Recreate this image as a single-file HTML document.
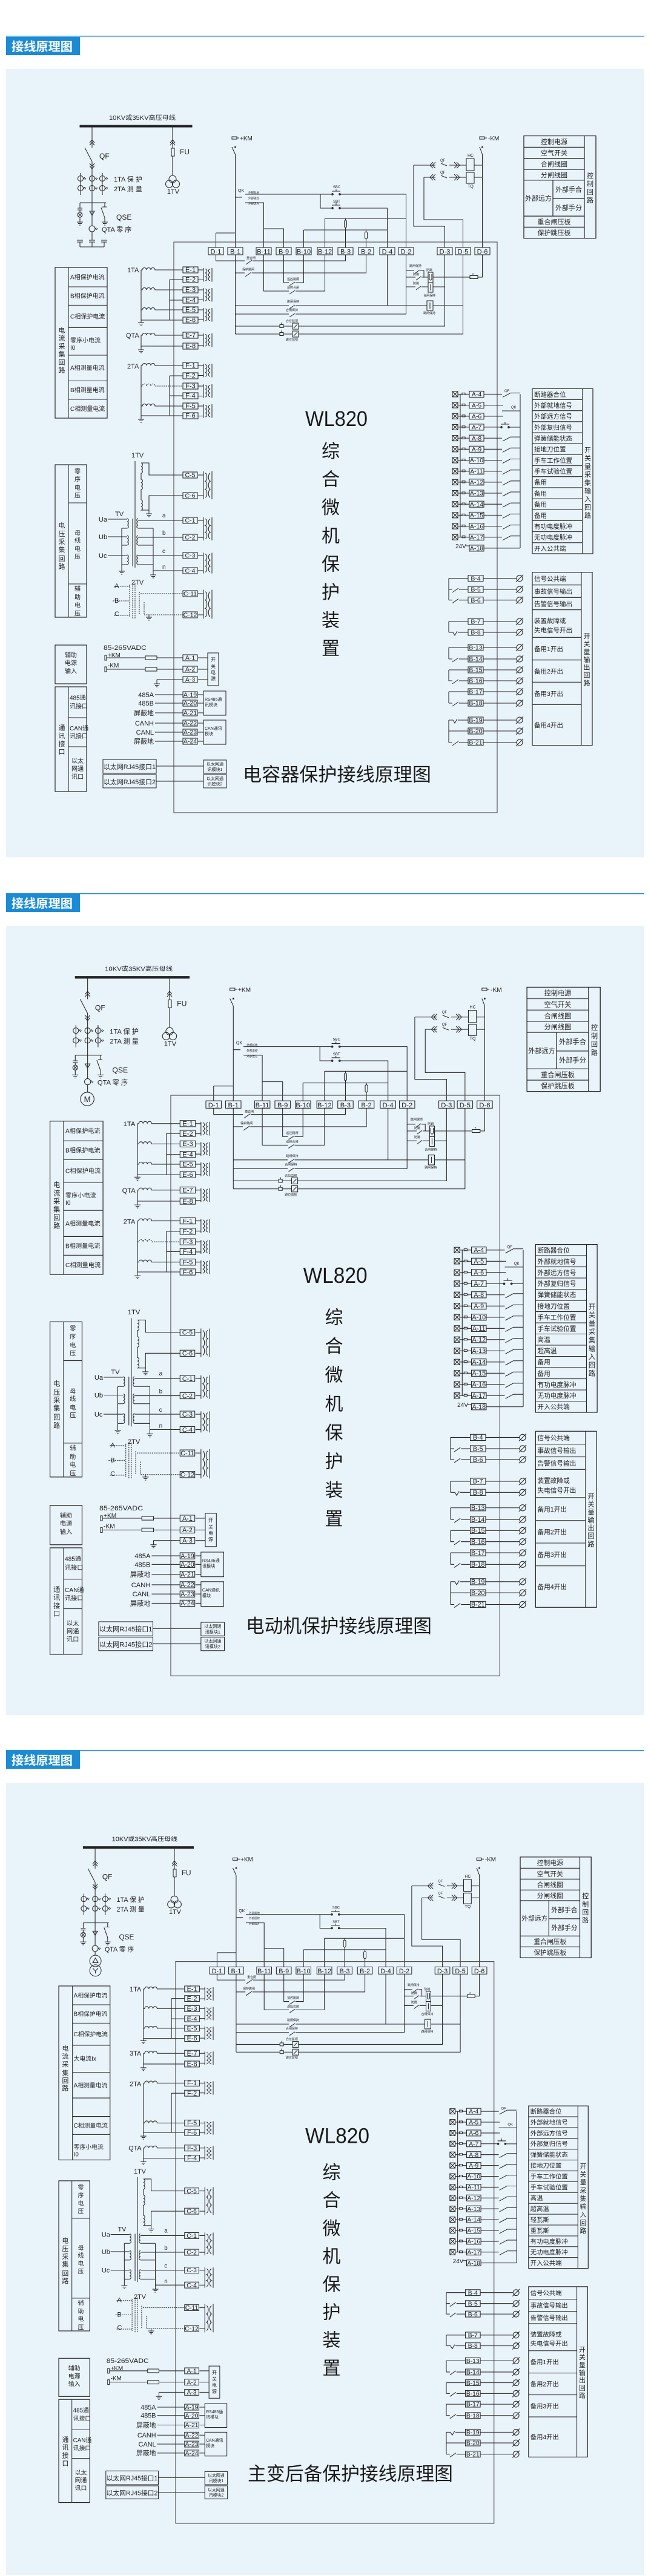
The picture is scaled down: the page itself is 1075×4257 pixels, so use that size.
<!DOCTYPE html>
<html><head><meta charset="utf-8"><style>html,body{margin:0;padding:0;background:#fff}svg{display:block}</style></head><body>
<svg xmlns="http://www.w3.org/2000/svg" width="1075" height="4257" viewBox="0 0 1075 4257">
<defs>
<path id="g" d="M0,0V3M-5,3H5M-3,5.5H3M-1.2,8H1.2"/>
<path id="ct" d="M0,0H2a3.5,3.5 0 0 1 7,0a3.5,3.5 0 0 1 7,0a3.5,3.5 0 0 1 7,0H69"/>
<path id="k" vector-effect="non-scaling-stroke" d="M0,0H9M0,16.5H9M9,-3V19.5M23,-3V19.5M12,-1.5a3.3,3.3 0 0 1 0,6.5a3.3,3.3 0 0 1 0,6.5a3.3,3.3 0 0 1 0,6.5M20,-1.5a3.3,3.3 0 0 0 0,6.5a3.3,3.3 0 0 0 0,6.5a3.3,3.3 0 0 0 0,6.5"/>
<g id="in"><rect x="0" y="-4.5" width="9" height="9"/><path d="M0,-4.5L9,4.5M9,-4.5L0,4.5M9,0H16M16,-2h5v3h-5zM21,0H28"/><rect x="28" y="-5" width="24" height="10"/></g>
<path id="sw" d="M0,0H30M31,5L44,-2M44,-2H60"/>
<g id="out"><rect x="0" y="-5" width="25" height="10"/><path d="M25,0H80M79,6L91,-6"/><circle cx="85" cy="0" r="5"/></g>

<g id="S">
<g fill="none" stroke="#262626" stroke-width="1.05">
<rect x="132" y="207" width="185" height="3" fill="#222"/>
<path d="M152,210V244M148,236l4,-5l4,5M148,240l4,-5l4,5M140,244L152,267M148,270l4,5l4,-5M148,274l4,5l4,-5M152,267V373M133,286V322M169,286V322M132,335H175M132,335V344M128,344H136M128,347H136M132,347V351M132,359V364M173,335V342M169,342H176M167,343L173,360M173,360V364M148,349H156L152,356Z"/>
<circle cx="133" cy="295" r="4.5"/><circle cx="152" cy="295" r="4.5"/><circle cx="169" cy="295" r="4.5"/>
<circle cx="133" cy="311" r="4.5"/><circle cx="152" cy="311" r="4.5"/><circle cx="169" cy="311" r="4.5"/>
<path d="M138,296l2,-3M140,297l2,-3M157,296l2,-3M159,297l2,-3M174,296l2,-3M176,297l2,-3M138,312l2,-3M140,313l2,-3M157,312l2,-3M159,313l2,-3M174,312l2,-3M176,313l2,-3M157,379l2,-3M159,380l2,-3"/>
<circle cx="132" cy="355" r="4"/><path d="M129.2,352.2L134.8,357.8M134.8,352.2L129.2,357.8"/>
<circle cx="152" cy="378" r="5"/>
<use href="#g" x="132" y="364"/><use href="#g" x="173" y="364"/>
<path d="M285,210V245M281,236l4,-5l4,5M281,240l4,-5l4,5M285,258V290"/>
<rect x="283" y="245" width="5" height="13"/>
<circle cx="285" cy="296" r="6"/><circle cx="279.5" cy="304" r="6"/><circle cx="290.5" cy="304" r="6"/>
<rect x="383" y="226" width="8" height="4"/>
<path d="M391,228H395M383,243L388.5,255M388.5,255V409M388.5,421V552M356.5,385V409M356.5,385H388.5M356.5,421V431H404M406,437L416,430M417,431H570.5V421M388.5,451H404M405,457L415,450M416,451H604.5V421M468.5,421V467H477M478,472L487,466M488,467H501.5V421M435.5,421V481H477M478,486L487,480M488,481H536.5V421M388.5,505H477M478,510L487,504M488,505H705M715,505H764.5M639.5,421V505M388.5,519H477M478,524L487,518M488,519H670.5V421M388.5,539H462M468,539H483M493,539H734.5V421M388.5,552H462M468,552H483M493,552H764.5V421"/>
<rect x="705" y="497" width="10" height="16"/><path d="M710,500V510"/>
<rect x="462" y="536.5" width="6" height="5"/><rect x="462" y="549.5" width="6" height="5"/><path d="M465,536.5V533M465,549.5V546M485,542L491,536M485,555L491,549"/>
<rect x="483" y="534" width="10" height="10"/><rect x="483" y="547" width="10" height="10"/>
<path d="M796.5,421V458H789M776,458H715M670.5,447H684M685,452L693,446M694,447H700V458M670.5,458H686M687,463L695,457M696,458H707M670.5,474H686M687,479L695,473M696,474H707M715,474H734.5M709,453V461a2,2 0 0 0 4,0V453M711,470V480"/>
<rect x="776" y="455.5" width="13" height="5"/><rect x="707" y="450" width="8" height="17"/><rect x="707" y="467" width="8" height="16"/>
<rect x="792" y="226" width="8" height="4"/>
<path d="M800,228H804M792,243L796.5,255M796.5,255V409M783,273H796.5M783,293H796.5M683,273H719M715,268l-5,5l5,5M719,268l-5,5l5,5M728,270L738,274M742,273H758M750,268l5,5l-5,5M754,268l5,5l-5,5M758,273H770M700,293H719M715,288l-5,5l5,5M719,288l-5,5l5,5M728,290L738,294M742,293H758M750,288l5,5l-5,5M754,288l5,5l-5,5M758,293H770M683,273V374H734.5V409M700,293V363H764.5V409"/>
<rect x="770" y="262" width="13" height="20"/><rect x="770" y="285" width="13" height="18"/>
<path d="M388.5,326H400M405,321H547M562,321H670.5V409M405,335H435.5V409M529,321V344H547M562,344H639.5V409M548,316H562M555,316V313M548,339H562M555,339V336M435.5,378H468.5V409M501.5,380V409M501.5,380H639.5M536.5,361V409M536.5,361H670.5M570.5,361V409M604.5,380V409"/>
<circle cx="549" cy="321" r="1.3" fill="#333"/><circle cx="561" cy="321" r="1.3" fill="#333"/><circle cx="549" cy="344" r="1.3" fill="#333"/><circle cx="561" cy="344" r="1.3" fill="#333"/><circle cx="388.5" cy="243" r="0.9" fill="#333"/><circle cx="796.5" cy="243" r="0.9" fill="#333"/>
<rect x="568.5" y="364" width="4" height="12" rx="2" fill="#e9f3fa"/><rect x="602.5" y="383" width="4" height="12" rx="2" fill="#e9f3fa"/>
<rect x="287" y="400" width="534" height="943" stroke="#555" stroke-width="1.2"/>
<rect x="344" y="409" width="25" height="12"/><rect x="376" y="409" width="25" height="12"/><rect x="423" y="409" width="25" height="12"/><rect x="456" y="409" width="25" height="12"/><rect x="489" y="409" width="25" height="12"/><rect x="524" y="409" width="25" height="12"/><rect x="558" y="409" width="25" height="12"/><rect x="592" y="409" width="25" height="12"/><rect x="627" y="409" width="25" height="12"/><rect x="658" y="409" width="25" height="12"/><rect x="722" y="409" width="25" height="12"/><rect x="752" y="409" width="25" height="12"/><rect x="784" y="409" width="25" height="12"/>
<rect x="865" y="224.5" width="119" height="169.2" stroke-width="1.3"/>
<path stroke-width="1.2" d="M965,224.5V393.7M865,243.3H965M865,261.6H965M865,279.9H965M865,297.8H965M913,297.8V357.1M913,328.1H965M865,357.1H965M865,375.4H965"/>
<use href="#in" x="747" y="651.4"/><use href="#in" x="747" y="669.6"/><use href="#in" x="747" y="687.8"/><use href="#in" x="747" y="705.9"/><use href="#in" x="747" y="724.1"/><use href="#in" x="747" y="742.3"/><use href="#in" x="747" y="760.5"/><use href="#in" x="747" y="778.7"/><use href="#in" x="747" y="796.8"/><use href="#in" x="747" y="815"/><use href="#in" x="747" y="833.2"/><use href="#in" x="747" y="851.4"/><use href="#in" x="747" y="869.6"/><use href="#in" x="747" y="887.7"/>
<rect x="775" y="900.9" width="24" height="10"/>
<path d="M760,651.4V887.7M769,902H775M859,651.4V905.9M799,905.9H859M799,669.6H831M799,687.8H831M829,679H859M799,705.9H826M827,701H841M834,701V697M841,706H859"/>
<circle cx="828" cy="706" r="1.3" fill="#333"/><circle cx="840" cy="706" r="1.3" fill="#333"/>
<use href="#sw" x="799" y="651.4"/><use href="#sw" x="799" y="724.1"/><use href="#sw" x="799" y="742.3"/><use href="#sw" x="799" y="760.5"/><use href="#sw" x="799" y="778.7"/><use href="#sw" x="799" y="796.8"/><use href="#sw" x="799" y="815"/><use href="#sw" x="799" y="833.2"/><use href="#sw" x="799" y="851.4"/><use href="#sw" x="799" y="869.6"/><use href="#sw" x="799" y="887.7"/>
<rect x="879" y="642.3" width="100" height="272.7" stroke-width="1.2"/>
<path d="M961.7,642.3V915M879,660.5H961.7M879,678.7H961.7M879,696.8H961.7M879,715H961.7M879,733.2H961.7M879,751.4H961.7M879,769.6H961.7M879,787.7H961.7M879,805.9H961.7M879,824.1H961.7M879,842.3H961.7M879,860.5H961.7M879,878.6H961.7M879,896.8H961.7"/>
<use href="#out" x="773" y="955.7"/><use href="#out" x="773" y="974"/><use href="#out" x="773" y="991.7"/><use href="#out" x="773" y="1027"/><use href="#out" x="773" y="1045"/><use href="#out" x="773" y="1070"/><use href="#out" x="773" y="1089"/><use href="#out" x="773" y="1107"/><use href="#out" x="773" y="1125"/><use href="#out" x="773" y="1143"/><use href="#out" x="773" y="1162"/><use href="#out" x="773" y="1190"/><use href="#out" x="773" y="1208"/><use href="#out" x="773" y="1227"/>
<path d="M741,955.7V991.7M741,955.7H773M741,974H747M747,979L757,972M758,974H773M741,991.7H747M747,996.7L757,989.7M758,991.7H773M741,1027V1045M741,1027H773M741,1045H748L751,1050L755,1043M756,1045H773M741,1070V1089M741,1070H773M741,1089H747M747,1094L757,1087M758,1089H773M741,1107V1125M741,1107H773M741,1125H747M747,1130L757,1123M758,1125H773M741,1143V1162M741,1143H773M741,1162H747M747,1167L757,1160M758,1162H773M741,1190V1227M741,1190H748L751,1195L755,1188M756,1190H773M741,1208H773M741,1227H747M747,1232L757,1225M758,1227H773"/>
<rect x="879" y="945.7" width="99" height="286" stroke-width="1.2"/>
<path d="M960,945.7V1231.7M879,966.7H960M879,987.3H960M879,1007.7H960M879,1053.3H960M879,1090.7H960M879,1127.3H960M879,1164.3H960"/>
<path d="M219,857V936M223,762V938M233,765a2.9,2.9 0 0 1 0,5.7a2.9,2.9 0 0 1 0,5.7a2.9,2.9 0 0 1 0,5.7V792a2.9,2.9 0 0 1 0,5.7a2.9,2.9 0 0 1 0,5.7a2.9,2.9 0 0 1 0,5.7V826a2.9,2.9 0 0 1 0,5.7a2.9,2.9 0 0 1 0,5.7a2.9,2.9 0 0 1 0,5.7V843M233,765H246V785H302M233,843H246V819H302M246,843V846"/>
<path d="M210,857a2.7,2.7 0 0 1 0,5.3a2.7,2.7 0 0 1 0,5.3a2.7,2.7 0 0 1 0,5.3M210,885a2.7,2.7 0 0 1 0,5.3a2.7,2.7 0 0 1 0,5.3a2.7,2.7 0 0 1 0,5.3M210,917a2.7,2.7 0 0 1 0,5.3a2.7,2.7 0 0 1 0,5.3a2.7,2.7 0 0 1 0,5.3M178,858H210M178,887H210M178,918H210M210,873H201M210,901H201M210,933H201M201,873V941"/>
<path d="M228,857a2.7,2.7 0 0 0 0,5.3a2.7,2.7 0 0 0 0,5.3a2.7,2.7 0 0 0 0,5.3M228,885a2.7,2.7 0 0 0 0,5.3a2.7,2.7 0 0 0 0,5.3a2.7,2.7 0 0 0 0,5.3M228,917a2.7,2.7 0 0 0 0,5.3a2.7,2.7 0 0 0 0,5.3a2.7,2.7 0 0 0 0,5.3M228,860H302M228,888H302M228,918H302M253,943H302M228,873H253M228,901H253M228,933H253M253,873V947"/>
<use href="#g" x="246" y="846"/><use href="#g" x="201" y="941"/><use href="#g" x="253" y="947"/>
<path stroke-dasharray="2,1.5" d="M188,969H214M186,993H214M188,1017H214M214,966V1020M219,964V1022M223,964V1022M230,978V1016M232,981H302M238,995V1016H302"/>
<use href="#g" x="246" y="1017"/>
<rect x="302" y="780" width="24" height="10"/><rect x="302" y="814" width="24" height="10"/><rect x="302" y="855" width="24" height="10"/><rect x="302" y="883" width="24" height="10"/><rect x="302" y="913" width="24" height="10"/><rect x="302" y="938" width="24" height="10"/><rect x="302" y="976" width="24" height="10"/><rect x="302" y="1011" width="24" height="10"/>
<use href="#k" transform="translate(327,785) scale(1,2.06)"/><use href="#k" transform="translate(327,860) scale(1,1.7)"/><use href="#k" transform="translate(327,918) scale(1,1.52)"/><use href="#k" transform="translate(327,981) scale(1,2.12)"/>
<rect x="173" y="1083" width="3" height="8"/><rect x="173" y="1102" width="3" height="8"/>
<path d="M176,1087H240M259,1087H302M176,1106H240M259,1106H302M259,1123H302M259,1123V1127M327,1087H343M327,1106H343M327,1123H343"/>
<rect x="240" y="1084" width="19" height="6"/><rect x="240" y="1103" width="19" height="6"/>
<use href="#g" x="259" y="1127"/>
<rect x="302" y="1082" width="24" height="10"/><rect x="302" y="1101" width="24" height="10"/><rect x="302" y="1118" width="24" height="10"/>
<rect x="343" y="1079" width="18" height="54"/>
<path d="M256,1148H302M256,1162H302M256,1178H302M256,1195H302M256,1210H302M256,1225H302M327,1148H336M327,1162H336M327,1178H336M327,1195H336M327,1210H336M327,1225H336M258,1266H336M258,1291H336"/>
<rect x="302" y="1143" width="24" height="10"/><rect x="302" y="1157" width="24" height="10"/><rect x="302" y="1173" width="24" height="10"/><rect x="302" y="1190" width="24" height="10"/><rect x="302" y="1205" width="24" height="10"/><rect x="302" y="1220" width="24" height="10"/>
<rect x="336" y="1142" width="37" height="40"/><rect x="336" y="1190" width="37" height="40"/>
<rect x="170" y="1255" width="88" height="23"/><rect x="170" y="1280" width="88" height="22"/>
<rect x="336" y="1256" width="38" height="22"/><rect x="336" y="1280" width="38" height="22"/>
<rect x="91" y="768" width="52" height="252" stroke-width="1.2"/><path d="M113,768V1020M113,831H143M113,965H143"/>
<rect x="91" y="1066" width="52" height="64" stroke-width="1.2"/>
<rect x="91" y="1135" width="52" height="173" stroke-width="1.2"/><path d="M113,1135V1308M113,1186H143M113,1234H143"/>
</g>
<g fill="#222" stroke="none" font-family="'Liberation Sans','Noto Sans CJK SC',sans-serif" font-size="10">
<text x="235" y="198" text-anchor="middle" textLength="110" lengthAdjust="spacingAndGlyphs">10KV或35KV高压母线</text>
<text x="164" y="262" font-size="12">QF</text>
<text x="188" y="300" font-size="11">1TA 保 护</text>
<text x="188" y="316" font-size="11">2TA 测 量</text>
<text x="192" y="363" font-size="12">QSE</text>
<text x="168" y="383" font-size="11">QTA 零 序</text>
<text x="297" y="255" font-size="12">FU</text>
<text x="286" y="320" font-size="11" text-anchor="middle">1TV</text>
<text x="396" y="232">+KM</text>
<text x="806" y="232">-KM</text>
<text x="393" y="317" font-size="7">QK</text>
<text x="410" y="320" font-size="4.5">外部就地</text>
<text x="410" y="329" font-size="4.5">外部遥控</text>
<text x="410" y="338" font-size="4.5">外部远方</text>
<text x="556" y="311" font-size="6" text-anchor="middle">SBC</text>
<text x="556" y="335" font-size="6" text-anchor="middle">SBT</text>
<text x="777" y="259" font-size="7" text-anchor="middle">HC</text>
<text x="777" y="310" font-size="7" text-anchor="middle">TQ</text>
<text x="727" y="267" font-size="6">QF</text>
<text x="727" y="287" font-size="6">QF</text>
<text x="407" y="428" font-size="5">重合闸</text>
<text x="400" y="447" font-size="5">保护跳闸</text>
<text x="474" y="463" font-size="5">遥控跳闸</text>
<text x="474" y="477" font-size="5">遥控合闸</text>
<text x="474" y="500" font-size="5">跳闸保持</text>
<text x="472" y="514" font-size="5">合闸保持</text>
<text x="472" y="532" font-size="5">合位监视</text>
<text x="472" y="563" font-size="5">跳位监视</text>
<text x="676" y="441" font-size="5">跳闸保持</text>
<text x="704" y="448" font-size="5">防跳</text>
<text x="682" y="455" font-size="5">防跳</text>
<text x="682" y="470" font-size="5">防跳</text>
<text x="699" y="490" font-size="5">合闸保持</text>
<text x="699" y="519" font-size="5">跳闸保持</text>
<text x="780" y="454" font-size="4">R</text>
<g font-size="11" text-anchor="middle">
<text x="356.5" y="419.5">D-1</text><text x="388.5" y="419.5">B-1</text><text x="435.5" y="419.5">B-11</text><text x="468.5" y="419.5">B-9</text><text x="501.5" y="419.5">B-10</text><text x="536.5" y="419.5">B-12</text><text x="570.5" y="419.5">B-3</text><text x="604.5" y="419.5">B-2</text><text x="639.5" y="419.5">D-4</text><text x="670.5" y="419.5">D-2</text><text x="734.5" y="419.5">D-3</text><text x="764.5" y="419.5">D-5</text><text x="796.5" y="419.5">D-6</text>
<text x="915" y="238">控制电源</text><text x="915" y="256.5">空气开关</text><text x="915" y="275">合闸线圈</text><text x="915" y="293">分闸线圈</text>
<text x="889" y="331.5">外部远方</text><text x="939" y="317">外部手合</text><text x="939" y="347">外部手分</text>
<text x="915" y="370.5">重合闸压板</text><text x="915" y="388.7">保护跳压板</text>
<text x="974.5" y="294">控</text><text x="974.5" y="307.6">制</text><text x="974.5" y="321">回</text><text x="974.5" y="334.4">路</text>
<text x="970.5" y="747.3">开</text><text x="970.5" y="760.9">关</text><text x="970.5" y="774.4">量</text><text x="970.5" y="788">采</text><text x="970.5" y="801.5">集</text><text x="970.5" y="815">输</text><text x="970.5" y="828.6">入</text><text x="970.5" y="842.1">回</text><text x="970.5" y="855.7">路</text>
<text x="969" y="1055">开</text><text x="969" y="1068">关</text><text x="969" y="1081">量</text><text x="969" y="1094">输</text><text x="969" y="1106.5">出</text><text x="969" y="1119.5">回</text><text x="969" y="1132.5">路</text>
<text x="102" y="872">电</text><text x="102" y="886">压</text><text x="102" y="899">采</text><text x="102" y="912">集</text><text x="102" y="927">回</text><text x="102" y="940">路</text>
<text x="102" y="1206.5">通</text><text x="102" y="1219.3">讯</text><text x="102" y="1233">接</text><text x="102" y="1245.8">口</text>
</g>
<g font-size="10.5" text-anchor="middle">
<text x="787" y="655.1">A-4</text><text x="787" y="673.3">A-5</text><text x="787" y="691.5">A-6</text><text x="787" y="709.6">A-7</text><text x="787" y="727.8">A-8</text><text x="787" y="746">A-9</text><text x="787" y="764.2">A-10</text><text x="787" y="782.4">A-11</text><text x="787" y="800.5">A-12</text><text x="787" y="818.7">A-13</text><text x="787" y="836.9">A-14</text><text x="787" y="855.1">A-15</text><text x="787" y="873.3">A-16</text><text x="787" y="891.4">A-17</text><text x="787" y="909.6">A-18</text>
<text x="785.5" y="959.4">B-4</text><text x="785.5" y="977.7">B-5</text><text x="785.5" y="995.4">B-6</text><text x="785.5" y="1030.7">B-7</text><text x="785.5" y="1048.7">B-8</text><text x="785.5" y="1073.7">B-13</text><text x="785.5" y="1092.7">B-14</text><text x="785.5" y="1110.7">B-15</text><text x="785.5" y="1128.7">B-16</text><text x="785.5" y="1146.7">B-17</text><text x="785.5" y="1165.7">B-18</text><text x="785.5" y="1193.7">B-19</text><text x="785.5" y="1211.7">B-20</text><text x="785.5" y="1230.7">B-21</text>
<text x="314" y="788.7">C-5</text><text x="314" y="822.7">C-6</text><text x="314" y="863.7">C-1</text><text x="314" y="891.7">C-2</text><text x="314" y="921.7">C-3</text><text x="314" y="946.7">C-4</text><text x="314" y="984.7">C-11</text><text x="314" y="1019.7">C-12</text>
<text x="314" y="1090.7">A-1</text><text x="314" y="1109.7">A-2</text><text x="314" y="1126.7">A-3</text>
<text x="314" y="1151.7">A-19</text><text x="314" y="1165.7">A-20</text><text x="314" y="1181.7">A-21</text><text x="314" y="1198.7">A-22</text><text x="314" y="1213.7">A-23</text><text x="314" y="1228.7">A-24</text>
</g>
<text x="752" y="906">24V</text>
<text x="833" y="648" font-size="6">QF</text>
<text x="844" y="675" font-size="6">QK</text>
<g font-size="10.5">
<text x="882" y="655.3">断路器合位</text><text x="882" y="673.5">外部就地信号</text><text x="882" y="691.7">外部远方信号</text><text x="882" y="709.8">外部复归信号</text><text x="882" y="728">弹簧储能状态</text><text x="882" y="746.2">接地刀位置</text><text x="882" y="764.4">手车工作位置</text><text x="882" y="782.6">手车试验位置</text><text x="882" y="873.5">有功电度脉冲</text><text x="882" y="891.6">无功电度脉冲</text><text x="882" y="909.8">开入公共端</text>
<text x="882" y="960">信号公共端</text><text x="882" y="981">事故信号输出</text><text x="882" y="1001.5">告警信号输出</text><text x="882" y="1029.5">装置故障或</text><text x="882" y="1045">失电信号开出</text><text x="882" y="1076">备用1开出</text><text x="882" y="1113">备用2开出</text><text x="882" y="1150">备用3开出</text><text x="882" y="1202">备用4开出</text>
</g>
<g text-anchor="middle">
<text x="128" y="782.5">零</text><text x="128" y="795.5">序</text><text x="128" y="809.5">电</text><text x="128" y="822.5">压</text>
<text x="128" y="884.5">母</text><text x="128" y="896.5">线</text><text x="128" y="910.5">电</text><text x="128" y="923.5">压</text>
<text x="128" y="976.5">辅</text><text x="128" y="990.5">助</text><text x="128" y="1003.5">电</text><text x="128" y="1017.5">压</text>
<text x="117" y="1086">辅助</text><text x="117" y="1099">电源</text><text x="117" y="1112.5">输入</text>
<text x="128" y="1261">以太</text><text x="128" y="1274">网通</text><text x="128" y="1287">讯口</text>
</g>
<text x="115" y="1156.5">485通</text><text x="115" y="1170.5">讯接口</text>
<text x="115" y="1207">CAN通</text><text x="115" y="1220">讯接口</text>
<text x="217" y="756" font-size="11">1TV</text>
<text x="190" y="853" font-size="11">TV</text>
<text x="163" y="862" font-size="11">Ua</text><text x="163" y="891" font-size="11">Ub</text><text x="163" y="922" font-size="11">Uc</text>
<text x="268" y="855">a</text><text x="268" y="884">b</text><text x="268" y="914">c</text><text x="268" y="940">n</text>
<text x="217" y="966" font-size="11">2TV</text>
<text x="189" y="972" font-size="11">A</text><text x="189" y="996" font-size="11">B</text><text x="189" y="1018" font-size="11">C</text>
<text x="171" y="1074" font-size="11" textLength="71" lengthAdjust="spacingAndGlyphs">85-265VADC</text>
<text x="178" y="1086">+KM</text><text x="178" y="1103">-KM</text>
<g font-size="8" text-anchor="middle"><text x="352" y="1093">开</text><text x="352" y="1104">关</text><text x="352" y="1114">电</text><text x="352" y="1124">源</text></g>
<g font-size="11" text-anchor="end"><text x="254" y="1152">485A</text><text x="254" y="1166">485B</text><text x="254" y="1182">屏蔽地</text><text x="254" y="1199">CANH</text><text x="254" y="1214">CANL</text><text x="254" y="1229">屏蔽地</text></g>
<g font-size="7"><text x="338" y="1158">RS485通</text><text x="338" y="1167">讯模块</text><text x="338" y="1206">CAN通讯</text><text x="338" y="1215">模块</text></g>
<text x="171" y="1271" font-size="11" textLength="86" lengthAdjust="spacingAndGlyphs">以太网RJ45接口1</text>
<text x="171" y="1296" font-size="11" textLength="86" lengthAdjust="spacingAndGlyphs">以太网RJ45接口2</text>
<g font-size="7" text-anchor="middle"><text x="355" y="1265">以太网通</text><text x="355" y="1274">讯模块1</text><text x="355" y="1289">以太网通</text><text x="355" y="1298">讯模块2</text></g>
</g>
</g>

<g id="C12">
<g fill="none" stroke="#262626" stroke-width="1.05">
<rect x="91" y="442" width="86" height="249" stroke-width="1.2"/>
<path d="M113,442V691M113,474H177M113,504.4H177M113,541.5H177M113,587H177M113,629.4H177M113,659.8H177"/>
<use href="#ct" x="233" y="446"/><use href="#ct" x="233" y="479"/><use href="#ct" x="233" y="512"/><use href="#ct" x="233" y="554"/><use href="#ct" x="233" y="604"/><use href="#ct" x="233" y="638" stroke-dasharray="2,1.5"/><use href="#ct" x="233" y="671"/>
<path d="M233,446V530M280,462V529M280,462H302M280,496H302M233,529H302M233,554V575M233,572H302M233,604V690M280,621V687M280,621H302M280,654H302M233,687H302"/>
<use href="#g" x="233" y="530"/><use href="#g" x="233" y="575"/><use href="#g" x="233" y="690"/>
<rect x="302" y="441" width="25" height="10"/><rect x="302" y="457" width="25" height="10"/><rect x="302" y="474" width="25" height="10"/><rect x="302" y="491" width="25" height="10"/><rect x="302" y="507" width="25" height="10"/><rect x="302" y="524" width="25" height="10"/><rect x="302" y="549" width="25" height="10"/><rect x="302" y="567" width="25" height="10"/><rect x="302" y="599" width="25" height="10"/><rect x="302" y="616" width="25" height="10"/><rect x="302" y="633" width="25" height="10"/><rect x="302" y="649" width="25" height="10"/><rect x="302" y="666" width="25" height="10"/><rect x="302" y="682" width="25" height="10"/>
<use href="#k" x="327" y="446"/><use href="#k" x="327" y="479"/><use href="#k" x="327" y="512"/><use href="#k" x="327" y="554"/><use href="#k" x="327" y="604"/><use href="#k" x="327" y="638"/><use href="#k" x="327" y="671"/>
</g>
<g fill="#222" font-family="'Liberation Sans','Noto Sans CJK SC',sans-serif" font-size="10">
<g font-size="11" text-anchor="middle"><text x="314.5" y="449.7">E-1</text><text x="314.5" y="465.7">E-2</text><text x="314.5" y="482.7">E-3</text><text x="314.5" y="499.7">E-4</text><text x="314.5" y="515.7">E-5</text><text x="314.5" y="532.7">E-6</text><text x="314.5" y="557.7">E-7</text><text x="314.5" y="575.7">E-8</text><text x="314.5" y="607.7">F-1</text><text x="314.5" y="624.7">F-2</text><text x="314.5" y="641.7">F-3</text><text x="314.5" y="657.7">F-4</text><text x="314.5" y="674.7">F-5</text><text x="314.5" y="690.7">F-6</text>
<text x="102" y="549.5">电</text><text x="102" y="562.7">流</text><text x="102" y="575.9">采</text><text x="102" y="589.1">集</text><text x="102" y="602.3">回</text><text x="102" y="615.5">路</text></g>
<text x="210" y="450" font-size="11">1TA</text><text x="208" y="558" font-size="11">QTA</text><text x="210" y="609" font-size="11">2TA</text>
<text x="116" y="461.5">A相保护电流</text><text x="116" y="492.7">B相保护电流</text><text x="116" y="526.5">C相保护电流</text><text x="116" y="566">零序小电流</text><text x="116" y="578">I0</text><text x="116" y="611.7">A相测量电流</text><text x="116" y="648">B相测量电流</text><text x="116" y="678.9">C相测量电流</text>
</g>
</g>
</defs>

<rect x="10" y="59" width="1054" height="1.6" fill="#2a92da"/>
<rect x="10" y="61" width="122" height="30" fill="#1c8bd6"/>
<text x="19" y="84" fill="#fff" font-size="20" font-weight="bold" font-family="'Liberation Sans','Noto Sans CJK SC',sans-serif" textLength="101" lengthAdjust="spacingAndGlyphs">接线原理图</text>
<rect x="10" y="114" width="1054" height="1303" fill="#e9f3fa"/>
<use href="#S"/><use href="#C12"/>
<g fill="none" stroke="#262626" stroke-width="1.05"><path d="M152,383V397M127,397H137M127,400H137M132,400V408M147,397H157M147,400H157M152,400V408M167,397H177M167,400H177M172,400V408M132,408H172"/></g>
<g fill="#222" font-family="'Liberation Sans','Noto Sans CJK SC',sans-serif" font-size="10.5"><text x="882" y="800.7">备用</text><text x="882" y="818.9">备用</text><text x="882" y="837.1">备用</text><text x="882" y="855.3">备用</text></g>
<g fill="#1a1a1a" font-family="'Liberation Sans','Noto Sans CJK SC',sans-serif">
<text x="555.5" y="704" font-size="35" text-anchor="middle" textLength="103" lengthAdjust="spacingAndGlyphs">WL820</text>
<g font-size="30" text-anchor="middle"><text x="546" y="756">综</text><text x="546" y="802.6">合</text><text x="546" y="849.2">微</text><text x="546" y="895.8">机</text><text x="546" y="942.4">保</text><text x="546" y="989">护</text><text x="546" y="1035.6">装</text><text x="546" y="1082.2">置</text></g>
<text x="401" y="1291" font-size="31" textLength="311" lengthAdjust="spacingAndGlyphs">电容器保护接线原理图</text>
</g>

<rect x="10" y="1476" width="1054" height="1.6" fill="#2a92da"/>
<rect x="10" y="1477" width="122" height="30" fill="#1c8bd6"/>
<text x="19" y="1500" fill="#fff" font-size="20" font-weight="bold" font-family="'Liberation Sans','Noto Sans CJK SC',sans-serif" textLength="101" lengthAdjust="spacingAndGlyphs">接线原理图</text>
<rect x="10" y="1530" width="1054" height="1304" fill="#e9f3fa"/>
<g transform="matrix(1.0175,0,0,1.0175,-10.02,1403)">
<use href="#S"/><use href="#C12"/>
<g fill="none" stroke="#262626" stroke-width="1.05"><path d="M152,383V395"/><circle cx="151.5" cy="406" r="11"/></g>
<g fill="#222" font-family="'Liberation Sans','Noto Sans CJK SC',sans-serif" font-size="10.5"><text x="151.5" y="411" font-size="13" text-anchor="middle">M</text><text x="882" y="800.7">高温</text><text x="882" y="818.9">超高温</text><text x="882" y="837.1">备用</text><text x="882" y="855.3">备用</text></g>
</g>
<g fill="#1a1a1a" font-family="'Liberation Sans','Noto Sans CJK SC',sans-serif">
<text x="553.6" y="2120" font-size="36" text-anchor="middle" textLength="106" lengthAdjust="spacingAndGlyphs">WL820</text>
<g font-size="30" text-anchor="middle"><text x="551.5" y="2187.5">综</text><text x="551.5" y="2235.1">合</text><text x="551.5" y="2282.7">微</text><text x="551.5" y="2330.3">机</text><text x="551.5" y="2377.9">保</text><text x="551.5" y="2425.5">护</text><text x="551.5" y="2473.1">装</text><text x="551.5" y="2520.7">置</text></g>
<text x="406" y="2698" font-size="31" textLength="307" lengthAdjust="spacingAndGlyphs">电动机保护接线原理图</text>
</g>

<rect x="10" y="2892" width="1054" height="1.6" fill="#2a92da"/>
<rect x="10" y="2893" width="122" height="30" fill="#1c8bd6"/>
<text x="19" y="2916" fill="#fff" font-size="20" font-weight="bold" font-family="'Liberation Sans','Noto Sans CJK SC',sans-serif" textLength="101" lengthAdjust="spacingAndGlyphs">接线原理图</text>
<rect x="10" y="2946" width="1054" height="1309" fill="#e9f3fa"/>
<g transform="matrix(0.9845,0,0,0.9845,7.45,2847.8)">
<use href="#S"/>
<g fill="none" stroke="#262626" stroke-width="1.05">
<path d="M152,383V389.5"/><circle cx="152.5" cy="399" r="9.6"/><circle cx="152.5" cy="415" r="9.6"/><path d="M148,402L152.5,394L157,402ZM148,411L152.5,416L157,411M152.5,416V420"/>
<rect x="91" y="441" width="86" height="292" stroke-width="1.2"/>
<path d="M114,441V733M114,472.5H177M114,503.4H177M114,540.6H177M114,585.9H177M114,629H177M114,660H177M114,690.3H177"/>
<use href="#ct" x="233" y="446"/><use href="#ct" x="233" y="479"/><use href="#ct" x="233" y="512"/><use href="#ct" x="233" y="554"/><use href="#ct" x="233" y="604"/><use href="#ct" x="233" y="671"/><use href="#ct" x="233" y="713"/>
<path d="M233,446V530M280,462V529M280,462H302M280,496H302M233,529H302M233,554V575M233,572H302M233,604V690M280,621V687M280,621H302M233,687H302M233,713V733M233,730H302"/>
<use href="#g" x="233" y="530"/><use href="#g" x="233" y="575"/><use href="#g" x="233" y="690"/><use href="#g" x="233" y="733"/>
<rect x="302" y="441" width="25" height="10"/><rect x="302" y="457" width="25" height="10"/><rect x="302" y="474" width="25" height="10"/><rect x="302" y="491" width="25" height="10"/><rect x="302" y="507" width="25" height="10"/><rect x="302" y="524" width="25" height="10"/><rect x="302" y="549" width="25" height="10"/><rect x="302" y="567" width="25" height="10"/><rect x="302" y="599" width="25" height="10"/><rect x="302" y="616" width="25" height="10"/><rect x="302" y="666" width="25" height="10"/><rect x="302" y="682" width="25" height="10"/><rect x="302" y="708" width="25" height="10"/><rect x="302" y="725" width="25" height="10"/>
<use href="#k" x="327" y="446"/><use href="#k" x="327" y="479"/><use href="#k" x="327" y="512"/><use href="#k" x="327" y="554"/><use href="#k" x="327" y="604"/><use href="#k" x="327" y="671"/><use href="#k" x="327" y="713"/>
</g>
<g fill="#222" font-family="'Liberation Sans','Noto Sans CJK SC',sans-serif" font-size="10">
<g font-size="11" text-anchor="middle"><text x="314.5" y="449.7">E-1</text><text x="314.5" y="465.7">E-2</text><text x="314.5" y="482.7">E-3</text><text x="314.5" y="499.7">E-4</text><text x="314.5" y="515.7">E-5</text><text x="314.5" y="532.7">E-6</text><text x="314.5" y="557.7">E-7</text><text x="314.5" y="575.7">E-8</text><text x="314.5" y="607.7">F-1</text><text x="314.5" y="624.7">F-2</text><text x="314.5" y="674.7">F-5</text><text x="314.5" y="690.7">F-6</text><text x="314.5" y="716.7">F-3</text><text x="314.5" y="733.7">F-4</text>
<text x="102" y="549">电</text><text x="102" y="562.7">流</text><text x="102" y="576">采</text><text x="102" y="590.8">集</text><text x="102" y="603.5">回</text><text x="102" y="616.2">路</text></g>
<text x="210" y="450" font-size="11">1TA</text><text x="210" y="558" font-size="11">3TA</text><text x="210" y="609" font-size="11">2TA</text><text x="208" y="717" font-size="11">QTA</text>
<text x="116" y="460.5">A相保护电流</text><text x="116" y="491.5">B相保护电流</text><text x="116" y="525.5">C相保护电流</text><text x="116" y="566.5">大电流Ix</text><text x="116" y="611">A相测量电流</text><text x="116" y="678.5">C相测量电流</text><text x="116" y="715">零序小电流</text><text x="116" y="727">I0</text>
<g font-size="10.5"><text x="882" y="800.7">高温</text><text x="882" y="818.9">超高温</text><text x="882" y="837.1">轻瓦斯</text><text x="882" y="855.3">重瓦斯</text></g>
</g>
</g>
<g fill="#1a1a1a" font-family="'Liberation Sans','Noto Sans CJK SC',sans-serif">
<text x="557" y="3541.6" font-size="35" text-anchor="middle" textLength="106" lengthAdjust="spacingAndGlyphs">WL820</text>
<g font-size="30" text-anchor="middle"><text x="547.5" y="3600.5">综</text><text x="547.5" y="3646.7">合</text><text x="547.5" y="3692.9">微</text><text x="547.5" y="3739.1">机</text><text x="547.5" y="3785.3">保</text><text x="547.5" y="3831.5">护</text><text x="547.5" y="3877.7">装</text><text x="547.5" y="3923.9">置</text></g>
<text x="409" y="4099" font-size="31" textLength="339" lengthAdjust="spacingAndGlyphs">主变后备保护接线原理图</text>
</g>
</svg>
</body></html>
